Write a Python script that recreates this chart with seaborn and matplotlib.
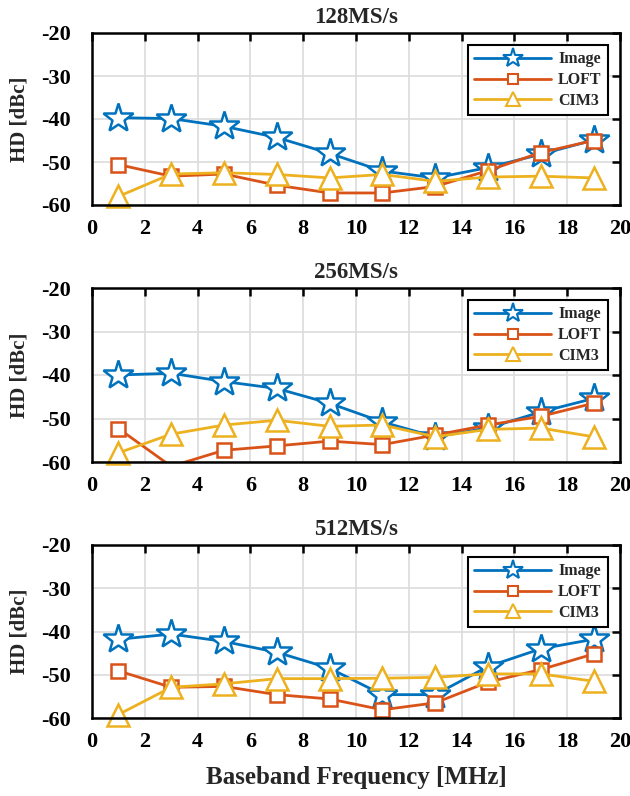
import matplotlib
matplotlib.use("Agg")
import matplotlib.pyplot as plt
from matplotlib.lines import Line2D
import seaborn as sns
import pandas as pd

# Baseband tones (MHz) and measured harmonic distortion (dBc)
freq = [1, 3, 5, 7, 9, 11, 13, 15, 17, 19]
rates = ["128MS/s", "256MS/s", "512MS/s"]

image_128 = [-39.7, -39.9, -41.7, -44.3, -48.0, -52.1, -53.7, -51.3, -48.2, -44.9]
loft_128 = [-50.6, -53.3, -52.8, -55.4, -57.2, -57.2, -55.7, -52.0, -47.8, -45.0]
cim3_128 = [-58.0, -52.8, -52.5, -52.9, -53.7, -52.9, -54.5, -53.5, -53.3, -53.7]

image_256 = [-40.0, -39.6, -41.5, -43.1, -46.5, -50.8, -54.2, -52.2, -48.5, -45.4]
loft_256 = [-52.3, -61.0, -57.3, -56.3, -55.2, -56.0, -53.8, -51.5, -49.5, -46.5]
cim3_256 = [-57.9, -53.6, -51.5, -50.4, -51.8, -51.5, -54.2, -52.5, -52.2, -54.2]

image_512 = [-41.8, -40.6, -42.3, -44.8, -48.5, -54.6, -54.6, -48.1, -44.0, -41.8]
loft_512 = [-49.1, -52.9, -52.7, -54.6, -55.6, -58.1, -56.5, -51.7, -48.8, -45.2]
cim3_512 = [-59.2, -52.9, -52.1, -50.9, -50.9, -50.8, -50.6, -49.8, -49.8, -51.5]

series_names = ["Image", "LOFT", "CIM3"]
panel_data = [
    [image_128, loft_128, cim3_128],
    [image_256, loft_256, cim3_256],
    [image_512, loft_512, cim3_512],
]

x_ticks = list(range(0, 21, 2))
y_ticks = [-60, -50, -40, -30, -20]
y_min, y_max = -60, -20

colors = ["#0072BD", "#D95319", "#EDB120"]
markers = ["*", "s", "^"]
msizes = [22, 10.5, 16]
mew = 1.8

sns.set_theme(style="whitegrid")
plt.rcParams["font.family"] = ["Liberation Serif", "DejaVu Serif"]
plt.rcParams["font.weight"] = "bold"
plt.rcParams["axes.unicode_minus"] = False

fig = plt.figure(figsize=(6.3, 7.96), dpi=100)
W, H = 630, 796
left, right = 92, 620
tops = [33, 288, 545]
bottoms = [205, 462, 718]

for i, rate in enumerate(rates):
    ax = fig.add_axes([left / W, 1 - bottoms[i] / H,
                       (right - left) / W, (bottoms[i] - tops[i]) / H])
    handles = []
    for name, vals, c, m, ms in zip(series_names, panel_data[i], colors, markers, msizes):
        df = pd.DataFrame({"f": freq, "hd": vals})
        # connecting line, clipped to the axes
        sns.lineplot(data=df, x="f", y="hd", ax=ax, color=c, linewidth=2.0,
                     legend=False)
        # markers for in-range points, drawn whole even at the axis edge
        inside = df[(df["hd"] >= y_min) & (df["hd"] <= y_max)]
        sns.lineplot(data=inside, x="f", y="hd", ax=ax, color=c, linestyle="none",
                     marker=m, markersize=ms, markerfacecolor="white",
                     markeredgecolor=c, markeredgewidth=mew, clip_on=False,
                     legend=False)
        handles.append(Line2D([], [], color=c, linewidth=2.0, marker=m,
                              markersize=ms * 0.66, markerfacecolor="white",
                              markeredgecolor=c, markeredgewidth=1.5, label=name))
    ax.set_xlim(0, 20)
    ax.set_ylim(y_min, y_max)
    ax.set_xticks(x_ticks)
    ax.set_yticks(y_ticks)
    ax.set_xticklabels([str(t) for t in x_ticks], fontsize=16, fontweight="bold")
    ax.set_yticklabels([str(t) for t in y_ticks], fontsize=16, fontweight="bold")
    ax.set_ylabel("HD [dBc]", fontsize=15, fontweight="bold")
    ax.yaxis.set_label_coords(-0.118, 0.5)
    ax.set_xlabel("")
    ax.set_title(rate, fontsize=16.5, fontweight="bold", pad=7)
    ax.grid(True, color="#dcdcdc", linewidth=1.2)
    ax.tick_params(direction="in", length=6, width=1.8, top=True, right=True,
                   colors="black")
    ax.tick_params(axis="y", pad=15)
    ax.tick_params(axis="x", pad=10)
    for sp in ax.spines.values():
        sp.set_color("black")
        sp.set_linewidth(1.8)
    leg = ax.legend(handles=handles, loc="upper right", frameon=True, fancybox=False,
                    handlelength=4.8, handletextpad=0.45, borderaxespad=0.75,
                    labelspacing=0.3, borderpad=0.4,
                    prop={"weight": "bold", "size": 11.5})
    leg.get_frame().set_edgecolor("black")
    leg.get_frame().set_linewidth(1.5)
    leg.get_frame().set_alpha(1)
    leg.set_zorder(10)
    if i == 2:
        ax.set_xlabel("Baseband Frequency [MHz]", fontsize=18, fontweight="bold", labelpad=10)

fig.savefig("out.png", dpi=100)
